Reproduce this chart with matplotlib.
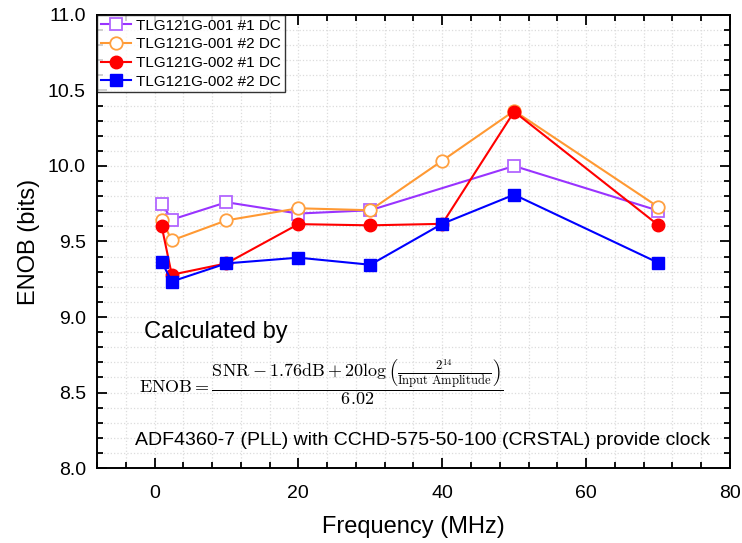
import numpy as np
import matplotlib
matplotlib.use('Agg')
import matplotlib.pyplot as plt
from matplotlib.ticker import MultipleLocator

plt.rcParams['font.family'] = ['Liberation Sans', 'DejaVu Sans']
plt.rcParams['mathtext.fontset'] = 'cm'

# data
f1 = [1, 2.4, 10, 20, 30, 50, 70]
enob1 = [9.75, 9.645, 9.76, 9.685, 9.707, 10.0, 9.705]

f2 = [1, 2.4, 10, 20, 30, 40, 50, 70]
enob2 = [9.645, 9.507, 9.64, 9.72, 9.707, 10.035, 10.365, 9.73]

f3 = [1, 2.4, 10, 20, 30, 40, 50, 70]
enob3 = [9.6, 9.28, 9.355, 9.615, 9.607, 9.617, 10.36, 9.61]

f4 = [1, 2.4, 10, 20, 30, 40, 50, 70]
enob4 = [9.365, 9.235, 9.355, 9.393, 9.346, 9.617, 9.81, 9.36]

labels = ['TLG121G-001 #1 DC', 'TLG121G-001 #2 DC',
          'TLG121G-002 #1 DC', 'TLG121G-002 #2 DC']

fig = plt.figure(figsize=(7.42, 5.43), dpi=100)
ax = fig.add_axes([0.1307, 0.1381, 0.8530, 0.8343])

ax.plot(f1, enob1, '-s', color='#9933FF', lw=1.5, ms=8, mfc='white',
        mec='#B266FF', mew=1.3, label=labels[0])
ax.plot(f2, enob2, '-o', color='#FF9933', lw=1.5, ms=9, mfc='white',
        mec='#FFA040', mew=1.3, label=labels[1])
ax.plot(f3, enob3, '-o', color='#FF0000', lw=1.5, ms=9, mfc='#FF0000',
        mec='#FF0000', label=labels[2])
ax.plot(f4, enob4, '-s', color='#0000FF', lw=1.5, ms=8, mfc='#0000FF',
        mec='#0000FF', label=labels[3])

ax.set_xlim(-8, 80)
ax.set_ylim(8.0, 11.0)
ax.xaxis.set_major_locator(MultipleLocator(20))
ax.xaxis.set_minor_locator(MultipleLocator(4))
ax.yaxis.set_major_locator(MultipleLocator(0.5))
ax.yaxis.set_minor_locator(MultipleLocator(0.1))
ax.yaxis.set_major_formatter(matplotlib.ticker.FormatStrFormatter('%.1f'))

ax.tick_params(which='both', direction='in', top=True, right=True,
               labelsize=14, width=1.3)
ax.tick_params(which='major', length=7, pad=8)
ax.tick_params(axis='x', which='major', pad=12)
ax.tick_params(which='minor', length=4)
for s in ax.spines.values():
    s.set_linewidth(1.4)

ax.grid(which='both', color='#dcdcdc', ls=':', lw=0.9)
ax.set_axisbelow(True)

ax.set_xlabel('Frequency (MHz)', fontsize=17, labelpad=10)
ax.set_ylabel('ENOB (bits)', fontsize=17, labelpad=6)

leg = ax.legend(loc='upper left', fontsize=11, frameon=True, fancybox=False,
                edgecolor='black', borderaxespad=0, borderpad=0.25,
                labelspacing=0.3, handlelength=2.0, handletextpad=0.3)
leg.get_frame().set_linewidth(1.0)

ax.text(-1.5, 8.9, 'Calculated by', fontsize=17, va='center', ha='left')
ax.text(-2.2, 8.57,
        r'$\mathrm{ENOB}=\dfrac{\mathrm{SNR}-1.76\mathrm{dB}+20\log\left(\frac{2^{14}}{\mathrm{Input\ Amplitude}}\right)}{6.02}$',
        fontsize=13, va='center', ha='left')
ax.text(37.2, 8.18, 'ADF4360-7 (PLL) with CCHD-575-50-100 (CRSTAL) provide clock',
        fontsize=14, va='center', ha='center')

fig.savefig('out.png', dpi=100)
